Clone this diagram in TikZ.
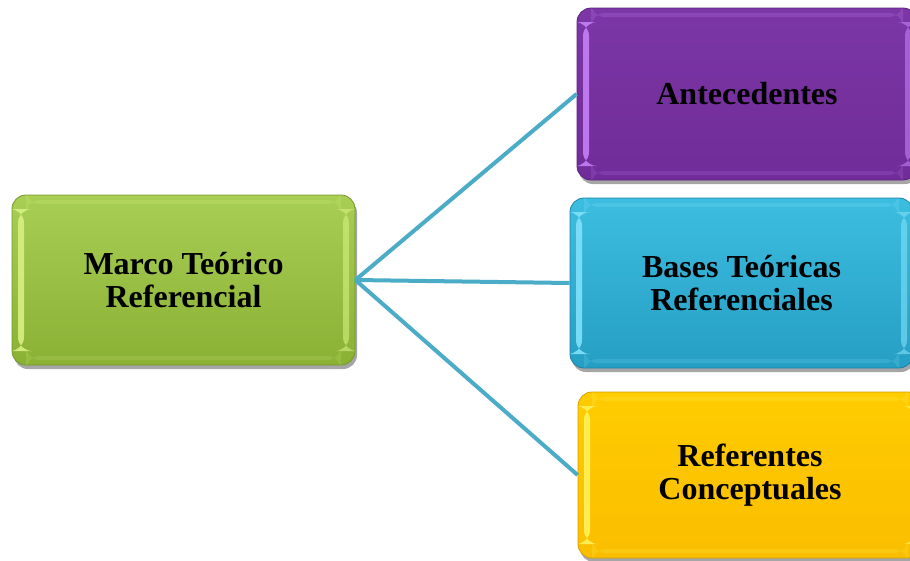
\documentclass[tikz,border=0pt]{standalone}
\usepackage{fontspec}
\setmainfont{Liberation Serif}
\usetikzlibrary{shadows,shadings}

\definecolor{linkblue}{RGB}{75,172,200}
\definecolor{grtop}{RGB}{168,206,84}
\definecolor{grbot}{RGB}{138,176,52}
\definecolor{grhl}{RGB}{215,240,130}
\definecolor{grbd}{RGB}{118,152,44}
\definecolor{putop}{RGB}{124,54,166}
\definecolor{pubot}{RGB}{112,44,152}
\definecolor{puhl}{RGB}{196,128,245}
\definecolor{pubd}{RGB}{92,34,128}
\definecolor{bltop}{RGB}{60,190,224}
\definecolor{blbot}{RGB}{38,158,196}
\definecolor{blhl}{RGB}{130,225,248}
\definecolor{blbd}{RGB}{30,130,165}
\definecolor{yetop}{RGB}{255,204,0}
\definecolor{yebot}{RGB}{250,190,0}
\definecolor{yehl}{RGB}{255,242,90}
\definecolor{yebd}{RGB}{215,160,0}

\tikzset{
  x=1pt, y=-1pt,
  bevelbox/.style n args={4}{
    rectangle, rounded corners=14pt, inner sep=0pt,
    align=center, font=\fontsize{32}{33}\selectfont\bfseries,
    top color=#1, bottom color=#2, draw=#4, line width=0.8pt,
    drop shadow={shadow xshift=2pt, shadow yshift=-4pt, opacity=.35, fill=black},
    path picture={
      \fill[#3, opacity=.9] ([xshift=6pt,yshift=-14pt]path picture bounding box.north west)
        rectangle ([xshift=12pt,yshift=14pt]path picture bounding box.south west);
      \fill[#3, opacity=.6] ([xshift=-12pt,yshift=-14pt]path picture bounding box.north east)
        rectangle ([xshift=-6pt,yshift=14pt]path picture bounding box.south east);
      \fill[#3, opacity=.22] ([xshift=14pt,yshift=-5pt]path picture bounding box.north west)
        rectangle ([xshift=-14pt,yshift=-9pt]path picture bounding box.north east);
      \fill[#3, opacity=.18] ([xshift=14pt,yshift=5pt]path picture bounding box.south west)
        rectangle ([xshift=-14pt,yshift=9pt]path picture bounding box.south east);
    }
  },
  link/.style={draw=linkblue, line width=4pt}
}

\begin{document}
\begin{tikzpicture}
  \useasboundingbox (0,0) rectangle (910,560);
  \clip (0,0) rectangle (910,560);
  \fill[white] (0,0) rectangle (910,560);

  \node[bevelbox={grtop}{grbot}{grhl}{grbd}, minimum width=343pt, minimum height=170pt]
    (marco) at (183.5,280) {Marco Teórico\\Referencial};
  \node[bevelbox={putop}{pubot}{puhl}{pubd}, minimum width=340pt, minimum height=172pt]
    (ante) at (747,94) {Antecedentes};
  \node[bevelbox={bltop}{blbot}{blhl}{blbd}, minimum width=343pt, minimum height=170pt]
    (bases) at (741.5,283) {Bases Teóricas\\Referenciales};
  \node[bevelbox={yetop}{yebot}{yehl}{yebd}, minimum width=344pt, minimum height=166pt]
    (refs) at (750,475) {Referentes\\Conceptuales};

  \draw[link] (marco.east) -- (ante.west);
  \draw[link] (marco.east) -- (bases.west);
  \draw[link] (marco.east) -- (refs.west);
\end{tikzpicture}
\end{document}
